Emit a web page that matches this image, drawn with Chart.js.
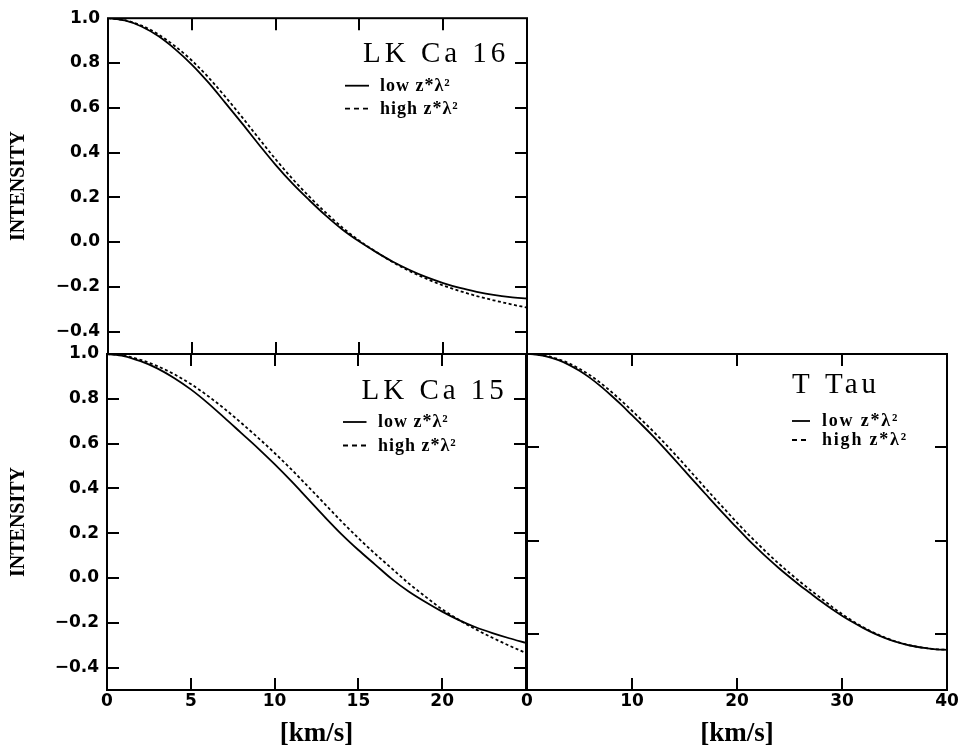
<!DOCTYPE html>
<html><head><meta charset="utf-8">
<script src="https://cdn.jsdelivr.net/npm/chart.js@4.4.1/dist/chart.umd.min.js"></script>
<style>
html,body{margin:0;padding:0;background:#fff;}
#wrap{position:relative;width:965px;height:755px;background:#fff;}
canvas{position:absolute;left:0;top:0;}
</style></head><body>
<div id="wrap">
<canvas id="c1" width="965" height="755"></canvas>
<canvas id="c2" width="965" height="755"></canvas>
<canvas id="c3" width="965" height="755"></canvas>
</div>
<script>
// ---- data ----
const velLk = [0,1,2,3,4,5,6,7,8,9,10,11,12,13,14,15,16,17,18,19,20,21,22,23,24,25];
const lk16Low  = [1.000,0.990,0.963,0.920,0.862,0.793,0.712,0.622,0.530,0.436,0.345,0.262,0.188,0.118,0.055,0.002,-0.045,-0.088,-0.125,-0.157,-0.183,-0.205,-0.222,-0.236,-0.246,-0.252];
const lk16High = [1.000,0.991,0.967,0.928,0.875,0.811,0.735,0.649,0.558,0.463,0.370,0.283,0.204,0.131,0.064,0.006,-0.044,-0.090,-0.130,-0.164,-0.194,-0.219,-0.241,-0.260,-0.277,-0.293];
const lk15Low  = [1.000,0.991,0.968,0.936,0.893,0.842,0.782,0.716,0.648,0.580,0.508,0.432,0.352,0.272,0.195,0.125,0.060,-0.005,-0.060,-0.107,-0.150,-0.188,-0.220,-0.246,-0.269,-0.290];
const lk15High = [1.000,0.993,0.974,0.946,0.910,0.866,0.814,0.756,0.693,0.627,0.558,0.485,0.408,0.330,0.252,0.178,0.108,0.042,-0.024,-0.083,-0.140,-0.187,-0.229,-0.267,-0.302,-0.335];
const velTTau = [0,1,2,3,4,5,6,7,8,9,10,11,12,13,14,15,16,17,18,19,20,21,22,23,24,25,26,27,28,29,30,31,32,33,34,35,36,37,38,39,40];
const tTauLow  = [1.000,0.996,0.985,0.967,0.942,0.910,0.872,0.828,0.779,0.727,0.672,0.617,0.560,0.500,0.438,0.375,0.312,0.250,0.188,0.128,0.068,0.010,-0.045,-0.098,-0.148,-0.195,-0.240,-0.282,-0.325,-0.365,-0.402,-0.436,-0.467,-0.495,-0.519,-0.539,-0.555,-0.567,-0.576,-0.582,-0.585];
const tTauHigh = [1.000,0.997,0.988,0.972,0.950,0.921,0.886,0.845,0.799,0.749,0.696,0.642,0.587,0.529,0.469,0.407,0.344,0.281,0.219,0.158,0.097,0.038,-0.018,-0.072,-0.124,-0.173,-0.220,-0.265,-0.308,-0.352,-0.393,-0.430,-0.463,-0.492,-0.517,-0.538,-0.554,-0.567,-0.576,-0.582,-0.585];
const yTicksLeft = [-0.4,-0.2,0.0,0.2,0.4,0.6,0.8,1.0];
const yTicksRight = [-0.5,0.0,0.5];
const xTicksLeft = [0,5,10,15,20];
const xTicksRight = [0,10,20,30,40];
const panelTitles = ['LK Ca 16','LK Ca 15','T Tau'];
const seriesLabels = ['low z*\u03bb\u00b2','high z*\u03bb\u00b2'];
const yAxisTitle = 'INTENSITY';
const xAxisTitle = '[km/s]';

// ---- drawing ----
const framePlugin = {
  id: 'frame',
  afterDatasetsDraw(chart, args, o) {
    const ctx = chart.ctx, a = chart.chartArea;
    const xs = chart.scales.x, ys = chart.scales.y;
    const L = 12;
    ctx.save();
    ctx.strokeStyle = '#000';
    ctx.lineWidth = 2;
    ctx.setLineDash([]);
    ctx.beginPath();
    xs.ticks.forEach(t => {
      if (t.value > xs.min && t.value < xs.max) {
        const p = Math.round(xs.getPixelForValue(t.value));
        ctx.moveTo(p, a.bottom); ctx.lineTo(p, a.bottom - L);
        ctx.moveTo(p, a.top); ctx.lineTo(p, a.top + L);
      }
    });
    ys.ticks.forEach(t => {
      if (t.value > ys.min && t.value < ys.max) {
        const p = Math.round(ys.getPixelForValue(t.value));
        ctx.moveTo(a.left, p); ctx.lineTo(a.left + L, p);
        ctx.moveTo(a.right, p); ctx.lineTo(a.right - L, p);
      }
    });
    ctx.stroke();
    ctx.strokeRect(a.left, a.top, a.right - a.left, a.bottom - a.top);
    // panel title
    ctx.fillStyle = '#000';
    ctx.textAlign = 'left';
    ctx.textBaseline = 'alphabetic';
    ctx.font = o.titleFont;
    if ('letterSpacing' in ctx) ctx.letterSpacing = o.titleSpacing;
    ctx.fillText(o.title, a.right - o.titleDx, a.top + o.titleDy);
    // legend
    ctx.font = o.legendFont;
    if ('letterSpacing' in ctx) ctx.letterSpacing = o.legendSpacing;
    chart.data.datasets.forEach((ds, i) => {
      const y = a.top + o.rowDy[i];
      ctx.lineWidth = 1.8;
      ctx.setLineDash(i === 0 ? [] : [5, 4]);
      ctx.beginPath();
      ctx.moveTo(a.right - o.sampleX0, y);
      ctx.lineTo(a.right - o.sampleX1, y);
      ctx.stroke();
      ctx.setLineDash([]);
      ctx.fillText(ds.label, a.right - o.textDx, y + 5);
    });
    if ('letterSpacing' in ctx) ctx.letterSpacing = '0px';
    ctx.restore();
  }
};

const tickFont = {family: '"DejaVu Sans"', size: 17, weight: 'bold'};
const fmtY = v => (v < 0 ? '\u2212' : '') + Math.abs(v).toFixed(1);

function makeChart(id, c) {
  return new Chart(document.getElementById(id), {
    type: 'line',
    data: {
      datasets: [
        {label: seriesLabels[0], data: c.x.map((v, i) => ({x: v, y: c.low[i]})),
         borderColor: '#000', borderWidth: 1.8, pointRadius: 0, fill: false, cubicInterpolationMode: 'monotone'},
        {label: seriesLabels[1], data: c.x.map((v, i) => ({x: v, y: c.high[i]})),
         borderColor: '#000', borderWidth: 1.8, borderDash: [3, 2.5], pointRadius: 0, fill: false, cubicInterpolationMode: 'monotone'}
      ]
    },
    options: {
      responsive: false, animation: false, devicePixelRatio: 1,
      layout: {padding: c.padding},
      plugins: {legend: {display: false}, tooltip: {enabled: false}, frame: c.frame},
      scales: {
        x: {
          type: 'linear', min: c.xmin, max: c.xmax,
          grid: {display: false, drawTicks: false}, border: {display: false},
          ticks: {display: c.xLabels, font: tickFont, color: '#000', padding: 1, maxRotation: 0, autoSkip: false,
                  callback: v => String(v)},
          afterBuildTicks: s => { s.ticks = c.xTicks.map(v => ({value: v})); },
          afterFit: s => { s.height = c.xHeight; },
          title: {display: c.xLabels, text: xAxisTitle, color: '#000',
                  font: {family: '"Liberation Serif"', size: 27, weight: 'bold'}, padding: {top: 0, bottom: 4.5}}
        },
        y: {
          type: 'linear', min: c.ymin, max: c.ymax,
          grid: {display: false, drawTicks: false}, border: {display: false},
          ticks: {display: c.yLabels, font: tickFont, color: '#000', padding: 8, autoSkip: false, callback: fmtY},
          afterBuildTicks: s => { s.ticks = c.yTicks.map(v => ({value: v})); },
          afterFit: s => { s.width = c.yWidth; },
          title: {display: c.yLabels, text: yAxisTitle, color: '#000',
                  font: {family: '"Liberation Serif"', size: 20, weight: 'bold'}, padding: {top: 6.6, bottom: 0}}
        }
      }
    },
    plugins: [framePlugin]
  });
}

const legendFont = 'bold 18px "Liberation Serif"';
const titleFont = '29px "Liberation Serif"';

makeChart('c1', {
  x: velLk, low: lk16Low, high: lk16High, xmin: 0, xmax: 25, ymin: -0.5, ymax: 1.0,
  xTicks: xTicksLeft, yTicks: yTicksLeft, xLabels: false, yLabels: true,
  xHeight: 0, yWidth: 108, padding: {left: 0, top: 17, right: 438, bottom: 401},
  frame: {title: panelTitles[0], titleFont, titleSpacing: '4px', titleDx: 164, titleDy: 44,
          legendFont, legendSpacing: '1px', rowDy: [67.5, 90.5], sampleX0: 182, sampleX1: 158, textDx: 147}
});
makeChart('c2', {
  x: velLk, low: lk15Low, high: lk15High, xmin: 0, xmax: 25, ymin: -0.5, ymax: 1.0,
  xTicks: xTicksLeft, yTicks: yTicksLeft, xLabels: true, yLabels: true,
  xHeight: 65, yWidth: 107, padding: {left: 0, top: 354, right: 439, bottom: 0},
  frame: {title: panelTitles[1], titleFont, titleSpacing: '4px', titleDx: 164.5, titleDy: 44.5,
          legendFont, legendSpacing: '1px', rowDy: [68, 91.5], sampleX0: 183, sampleX1: 159.5, textDx: 148}
});
makeChart('c3', {
  x: velTTau, low: tTauLow, high: tTauHigh, xmin: 0, xmax: 40, ymin: -0.8, ymax: 1.0,
  xTicks: xTicksRight, yTicks: yTicksRight, xLabels: true, yLabels: false,
  xHeight: 65, yWidth: 527, padding: {left: 0, top: 354, right: 18, bottom: 0},
  frame: {title: panelTitles[2], titleFont, titleSpacing: '4px', titleDx: 155, titleDy: 39,
          legendFont, legendSpacing: '1.8px', rowDy: [67, 86], sampleX0: 155, sampleX1: 137, textDx: 125}
});
</script>
</body></html>
